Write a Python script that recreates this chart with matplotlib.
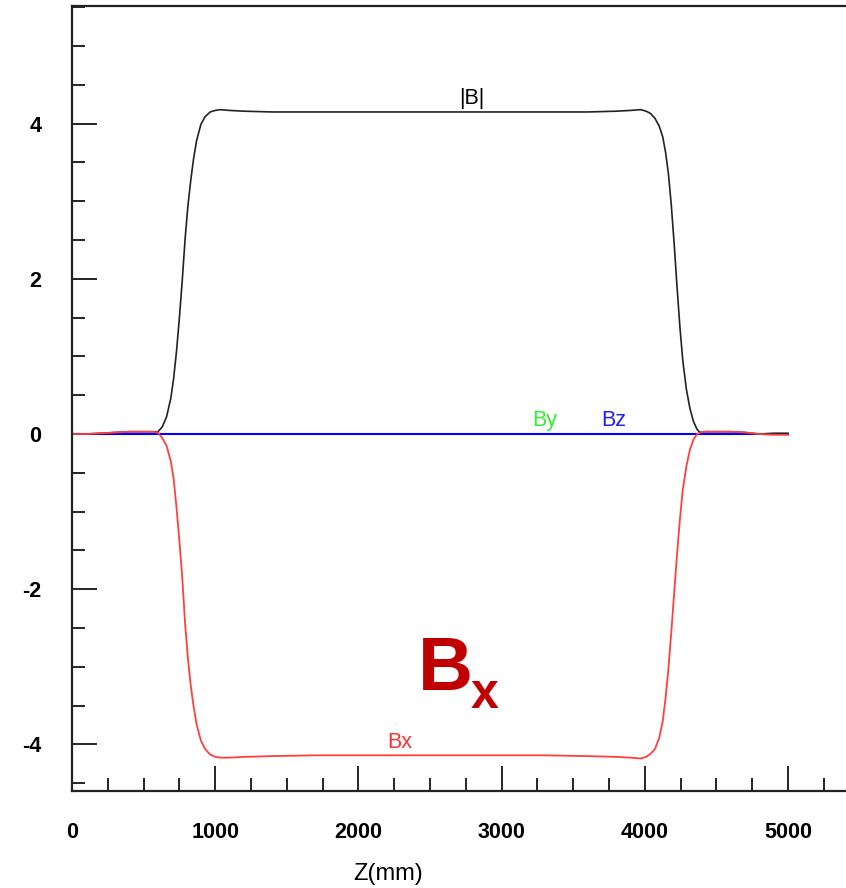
import numpy as np
import matplotlib.pyplot as plt
from matplotlib.ticker import MultipleLocator

# Field components along the beam axis
z_mm = [0, 100, 200, 300, 400, 500, 560, 600, 630, 660, 690, 710, 730, 750,
        770, 790, 810, 830, 850, 870, 900, 930, 965, 1000, 1035, 1100, 1200,
        1400, 1700, 2000, 2500, 3000, 3300, 3600, 3800, 3900, 3970, 4010,
        4040, 4070, 4100, 4125, 4145, 4165, 4185, 4205, 4225, 4245, 4265,
        4290, 4315, 4340, 4365, 4385, 4420, 4500, 4600, 4700, 4800, 4900, 5000]

b_abs = [0.0, 0.0, 0.01, 0.02, 0.03, 0.03, 0.03, 0.03, 0.09, 0.22, 0.46, 0.72,
         1.07, 1.50, 1.98, 2.52, 2.95, 3.28, 3.56, 3.78, 3.99, 4.09, 4.15,
         4.17, 4.18, 4.17, 4.16, 4.15, 4.15, 4.15, 4.15, 4.15, 4.15, 4.15,
         4.16, 4.17, 4.18, 4.16, 4.13, 4.07, 3.97, 3.83, 3.63, 3.35, 2.95,
         2.45, 1.90, 1.38, 0.95, 0.58, 0.33, 0.16, 0.06, 0.02, 0.03, 0.03,
         0.03, 0.02, 0.0, 0.01, 0.01]

b_x = [0.0, 0.0, 0.01, 0.02, 0.03, 0.03, 0.03, 0.02, -0.05, -0.15, -0.35,
       -0.58, -0.95, -1.38, -1.85, -2.45, -2.90, -3.25, -3.52, -3.74, -3.95,
       -4.06, -4.13, -4.16, -4.17, -4.17, -4.16, -4.15, -4.14, -4.14, -4.14,
       -4.14, -4.14, -4.15, -4.16, -4.17, -4.18, -4.16, -4.12, -4.06, -3.92,
       -3.70, -3.40, -3.02, -2.55, -2.05, -1.55, -1.10, -0.72, -0.42, -0.20,
       -0.07, 0.0, 0.02, 0.03, 0.03, 0.03, 0.02, 0.0, -0.01, -0.01]

b_y = [0.0] * len(z_mm)
b_z = [0.0] * len(z_mm)

plt.rcParams["font.family"] = ["Liberation Sans", "DejaVu Sans"]
plt.rcParams["axes.unicode_minus"] = False

fig = plt.figure(figsize=(8.46, 8.88), dpi=100)
ax = fig.add_axes([0.0851, 0.1092, 0.9310, 0.8840])

ax.plot(z_mm, b_y, color="#33ee33", lw=1.3)
ax.plot(z_mm, b_z, color="#0000ff", lw=1.5)
ax.plot(z_mm, b_abs, color="#222222", lw=1.2)
ax.plot(z_mm, b_x, color="#ff4040", lw=1.3)

# curve labels
ax.text(2793, 4.33, "|B|", color="black", fontsize=15.5, ha="center", va="center")
ax.text(3303, 0.18, "By", color="#33ee33", fontsize=15.5, ha="center", va="center")
ax.text(3785, 0.18, "Bz", color="#2020ff", fontsize=15.5, ha="center", va="center")
ax.text(2290, -3.97, "Bx", color="#ff3030", fontsize=15.5, ha="center", va="center")

# large component tag
ax.text(2416, -3.30, "B", color="#c00000", fontsize=55, fontweight="bold",
        ha="left", va="baseline")
ax.text(2786, -3.53, "x", color="#c00000", fontsize=36, fontweight="bold",
        ha="left", va="baseline")

ax.set_xlim(0, 5500)
ax.set_ylim(-4.60, 5.515)

ax.xaxis.set_major_locator(MultipleLocator(1000))
ax.xaxis.set_minor_locator(MultipleLocator(250))
ax.yaxis.set_major_locator(MultipleLocator(2))
ax.yaxis.set_minor_locator(MultipleLocator(0.5))

ax.tick_params(which="major", direction="in", length=18, width=1.2,
               labelsize=15.5, colors="black")
ax.tick_params(which="minor", direction="in", length=9.5, width=1.2)
ax.tick_params(axis="x", which="major", pad=22)
ax.tick_params(axis="y", which="major", pad=22)
for lab in ax.get_xticklabels() + ax.get_yticklabels():
    lab.set_fontweight("bold")

for side in ["left", "top", "bottom"]:
    ax.spines[side].set_linewidth(1.6)
    ax.spines[side].set_color("#222222")
ax.spines["right"].set_visible(False)

ax.set_xlabel("Z(mm)", fontsize=17)
ax.xaxis.set_label_coords(0.402, -0.092)
ax.xaxis.label.set_verticalalignment("top")

fig.savefig("out.png", dpi=100)
